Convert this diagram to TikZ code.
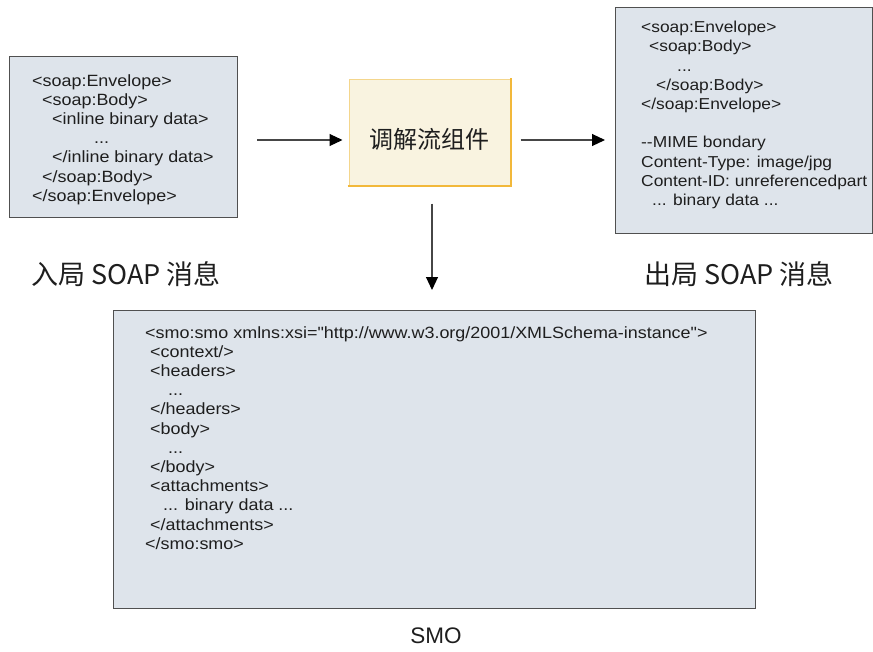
\documentclass[tikz,border=0pt]{standalone}
\usepackage{fontspec}
\setmainfont{Liberation Sans}
\newfontfamily\codefont{Liberation Sans}[FakeStretch=1.1]
\newfontfamily\cjk{Noto Sans CJK SC}
\usetikzlibrary{arrows.meta}
\definecolor{boxfill}{RGB}{222,228,235}
\definecolor{boxline}{RGB}{80,80,80}
\definecolor{txt}{RGB}{30,30,30}
\definecolor{arrowline}{RGB}{70,70,70}
\definecolor{compfill}{RGB}{249,243,224}
\definecolor{compline}{RGB}{244,214,140}
\definecolor{compshadow}{RGB}{242,184,58}
\begin{document}
\begin{tikzpicture}[x=1pt,y=-1pt,
  msgbox/.style={draw=boxline,fill=boxfill,line width=0.9pt},
  code/.style={anchor=north west,inner sep=0pt,align=left,text=txt,
    font=\codefont\fontsize{16.3}{19.2}\selectfont},
  caption/.style={text=txt,font=\cjk\fontsize{27}{30}\selectfont},
  flow/.style={-{Triangle[length=13pt,width=12pt,fill=black,color=black]},line width=1.1pt,arrowline}]
\useasboundingbox (0,0) rectangle (873,651);
% boxes
\path[msgbox] (9,56) rectangle (237,217);
\coordinate (inE) at (237,140);
\path[msgbox] (615,7) rectangle (872,233);
\coordinate (outW) at (615,140);
\path[msgbox] (113,310) rectangle (755,608);
\coordinate (smoN) at (432,310);
% component
\node[draw=compline,fill=compfill,line width=1pt,minimum width=161pt,minimum height=106pt,
  inner sep=0pt] (comp) at (429.5,132) {};
\draw[compshadow,line width=2pt] ([xshift=-1pt]comp.south west) -- (comp.south east) -- ([yshift=1pt]comp.north east);
\node[text=txt,font=\cjk\fontsize{24}{27}\selectfont] (complbl) at (429.5,139) {调解流组件};
% texts
\node[code] (intext) at (32,74) {%
\textless soap:Envelope\textgreater\\
\hspace*{10pt}\textless soap:Body\textgreater\\
\hspace*{20pt}\textless inline binary data\textgreater\\
\hspace*{62pt}...\\
\hspace*{20pt}\textless/inline binary data\textgreater\\
\hspace*{10pt}\textless/soap:Body\textgreater\\
\textless/soap:Envelope\textgreater};
\node[code,font=\codefont\fontsize{15.8}{19.2}\selectfont] (outtext) at (641,21) {%
\textless soap:Envelope\textgreater\\
\hspace*{8pt}\textless soap:Body\textgreater\\
\hspace*{36pt}...\\
\hspace*{15pt}\textless/soap:Body\textgreater\\
\textless/soap:Envelope\textgreater\\[19.2pt]
-{}-MIME bondary\\
Content-Type: image/jpg\\
Content-ID: unreferencedpart\\
\hspace*{11pt}... binary data ...};
\node[code] (smotext) at (145,326) {%
\textless smo:smo xmlns:xsi=\symbol{34}http://www.w3.org/2001/XMLSchema-instance\symbol{34}\textgreater\\
\hspace*{5pt}\textless context/\textgreater\\
\hspace*{5pt}\textless headers\textgreater\\
\hspace*{23pt}...\\
\hspace*{5pt}\textless/headers\textgreater\\
\hspace*{5pt}\textless body\textgreater\\
\hspace*{23pt}...\\
\hspace*{5pt}\textless/body\textgreater\\
\hspace*{5pt}\textless attachments\textgreater\\
\hspace*{18pt}... binary data ...\\
\hspace*{5pt}\textless/attachments\textgreater\\
\textless/smo:smo\textgreater};
% captions
\node[caption] (inlbl) at (126,274) {入局 SOAP 消息};
\node[caption] (outlbl) at (739,274) {出局 SOAP 消息};
\node[text=txt,font=\fontsize{22.5}{26}\selectfont] (smolbl) at (436,636) {SMO};
% arrows
\draw[flow,shorten <=20pt,shorten >=6pt] (inE) -- (comp.west |- inE);
\draw[flow,shorten <=10pt,shorten >=10pt] (comp.east |- outW) -- (outW);
\draw[flow,shorten <=18pt,shorten >=20pt] (comp.south -| smoN) -- (smoN);
\end{tikzpicture}
\end{document}
